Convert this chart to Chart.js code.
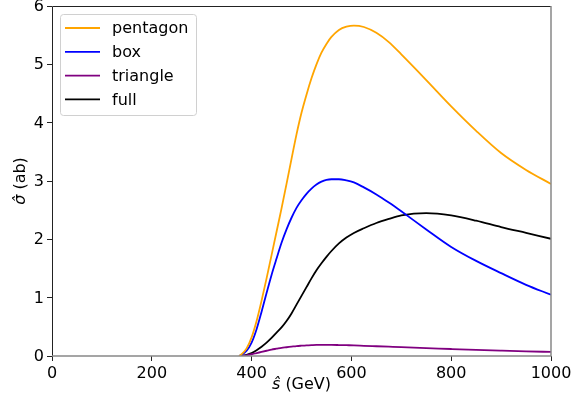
<!DOCTYPE html>
<html>
<head>
<meta charset="utf-8">
<script src="https://cdn.jsdelivr.net/npm/chart.js@4.4.0/dist/chart.umd.min.js"></script>
<style>
  html, body { margin: 0; padding: 0; background: #fff; }
  #wrap { width: 572px; height: 410px; }
</style>
</head>
<body>
<div id="wrap"><canvas id="myChart"></canvas></div>
<script>
// s-hat grid in GeV
var energies = [375, 380, 390, 400, 410, 420, 430, 440, 450, 460, 470, 480, 490, 500, 510, 520, 530, 540, 550, 560, 575, 590, 605, 625, 650, 675, 700, 750, 800, 850, 900, 950, 1000];

// cross sections in ab
var pentagon = [0, 0.03, 0.13, 0.32, 0.6, 0.95, 1.33, 1.73, 2.13, 2.53, 2.95, 3.38, 3.8, 4.17, 4.48, 4.76, 5.0, 5.2, 5.35, 5.47, 5.59, 5.645, 5.665, 5.64, 5.54, 5.38, 5.17, 4.73, 4.28, 3.86, 3.48, 3.19, 2.95];
var box      = [0, 0.02, 0.09, 0.23, 0.46, 0.76, 1.08, 1.39, 1.67, 1.94, 2.17, 2.37, 2.54, 2.67, 2.78, 2.87, 2.94, 2.99, 3.02, 3.03, 3.03, 3.01, 2.975, 2.89, 2.77, 2.63, 2.48, 2.17, 1.87, 1.63, 1.42, 1.22, 1.05];
var triangle = [0, 0.002, 0.012, 0.03, 0.05, 0.07, 0.09, 0.11, 0.125, 0.14, 0.15, 0.16, 0.17, 0.177, 0.183, 0.187, 0.19, 0.19, 0.19, 0.19, 0.188, 0.185, 0.182, 0.175, 0.167, 0.159, 0.151, 0.136, 0.12, 0.105, 0.092, 0.08, 0.07];
var full     = [0, 0.003, 0.02, 0.05, 0.1, 0.16, 0.23, 0.31, 0.4, 0.49, 0.6, 0.73, 0.88, 1.03, 1.18, 1.33, 1.47, 1.59, 1.7, 1.8, 1.93, 2.03, 2.11, 2.19, 2.28, 2.35, 2.41, 2.45, 2.41, 2.32, 2.21, 2.11, 2.01];

var xTicks = [0, 200, 400, 600, 800, 1000];
var yTicks = [0, 1, 2, 3, 4, 5, 6];

const FONT = "'DejaVu Sans', sans-serif";
const FS = 16;
Chart.defaults.font.family = FONT;
Chart.defaults.font.size = FS;
Chart.defaults.color = '#000';

function toPoints(ys) {
    return energies.map((e, i) => ({ x: e, y: ys[i] }));
}

function makeSet(label, ys, color) {
    return {
        label: label,
        data: toPoints(ys),
        borderColor: color,
        backgroundColor: color,
        borderWidth: 1.8,
        pointRadius: 0,
        fill: false,
        cubicInterpolationMode: 'monotone'
    };
}

// box around plot area + axis titles
const framePlugin = {
    id: 'frame',
    afterDraw(chart) {
        const c = chart.ctx, a = chart.chartArea;
        c.save();
        c.lineWidth = 1;
        c.strokeStyle = '#222';
        c.beginPath();
        c.moveTo(a.left + 0.5, a.bottom);
        c.lineTo(a.left + 0.5, a.top + 0.5);
        c.lineTo(a.right, a.top + 0.5);
        c.stroke();
        c.strokeStyle = '#888';
        c.lineWidth = 1.5;
        c.beginPath();
        c.moveTo(a.left, a.bottom);
        c.lineTo(a.right, a.bottom);
        c.lineTo(a.right, a.top);
        c.stroke();

        // x title: s-hat (GeV)
        c.fillStyle = '#000';
        c.textBaseline = 'alphabetic';
        let cx = (a.left + a.right) / 2;
        c.font = 'italic ' + FS + 'px ' + FONT;
        let w1 = c.measureText('\u015D').width;
        c.font = FS + 'px ' + FONT;
        let w2 = c.measureText(' (GeV)').width;
        let x0 = cx - (w1 + w2) / 2;
        c.font = 'italic ' + FS + 'px ' + FONT;
        c.fillText('\u015D', x0, 389);
        c.font = FS + 'px ' + FONT;
        c.fillText(' (GeV)', x0 + w1, 389);

        // y title: sigma-hat (ab)
        c.translate(25, (a.top + a.bottom) / 2);
        c.rotate(-Math.PI / 2);
        c.font = 'italic ' + FS + 'px ' + FONT;
        w1 = c.measureText('\u03C3\u0302').width;
        c.font = FS + 'px ' + FONT;
        w2 = c.measureText(' (ab)').width;
        x0 = -(w1 + w2) / 2;
        c.font = 'italic ' + FS + 'px ' + FONT;
        c.fillText('\u03C3\u0302', x0, 0);
        c.font = FS + 'px ' + FONT;
        c.fillText(' (ab)', x0 + w1, 0);
        c.restore();
    }
};

// matplotlib style legend inside upper left
const legendPlugin = {
    id: 'innerLegend',
    afterDatasetsDraw(chart) {
        const c = chart.ctx, a = chart.chartArea;
        const bx = a.left + 8, by = a.top + 8, bw = 136, bh = 101;
        c.save();
        c.fillStyle = 'rgba(255,255,255,0.8)';
        c.strokeStyle = '#d0d0d0';
        c.lineWidth = 1;
        c.beginPath();
        c.roundRect(bx + 0.5, by + 0.5, bw, bh, 3);
        c.fill();
        c.stroke();
        c.font = FS + 'px ' + FONT;
        c.textBaseline = 'middle';
        chart.data.datasets.forEach((ds, i) => {
            const y = by + 14 + i * 23.8;
            c.strokeStyle = ds.borderColor;
            c.lineWidth = 1.8;
            c.beginPath();
            c.moveTo(bx + 5, y);
            c.lineTo(bx + 40, y);
            c.stroke();
            c.fillStyle = '#000';
            c.fillText(ds.label, bx + 52, y + 1);
        });
        c.restore();
    }
};

const ctx = document.getElementById('myChart');
var myChart = new Chart(ctx, {
    type: 'line',
    data: {
        datasets: [
            makeSet('pentagon', pentagon, '#ffa500'),
            makeSet('box', box, '#0000ff'),
            makeSet('triangle', triangle, '#800080'),
            makeSet('full', full, '#000000')
        ]
    },
    options: {
        responsive: true,
        maintainAspectRatio: false,
        animation: false,
        layout: { padding: { top: 6, right: 21, left: 0, bottom: 0 } },
        plugins: {
            legend: { display: false },
            tooltip: { enabled: false }
        },
        scales: {
            x: {
                type: 'linear',
                min: 0,
                max: 1000,
                afterBuildTicks: s => { s.ticks = xTicks.map(v => ({ value: v })); },
                ticks: { padding: 3, maxRotation: 0, autoSkip: false, callback: v => String(v) },
                grid: { drawOnChartArea: false, tickLength: 5, color: '#222' },
                border: { display: false },
                afterFit: s => { s.height = 54; s.paddingLeft = 0; s.paddingRight = 0; }
            },
            y: {
                min: 0,
                max: 6,
                afterBuildTicks: s => { s.ticks = yTicks.map(v => ({ value: v })); },
                ticks: { padding: 3, labelOffset: 1 },
                grid: { drawOnChartArea: false, tickLength: 5, color: '#222' },
                border: { display: false },
                afterFit: s => { s.width = 52; s.paddingTop = 0; s.paddingBottom = 0; }
            }
        }
    },
    plugins: [framePlugin, legendPlugin]
});
</script>
</body>
</html>
